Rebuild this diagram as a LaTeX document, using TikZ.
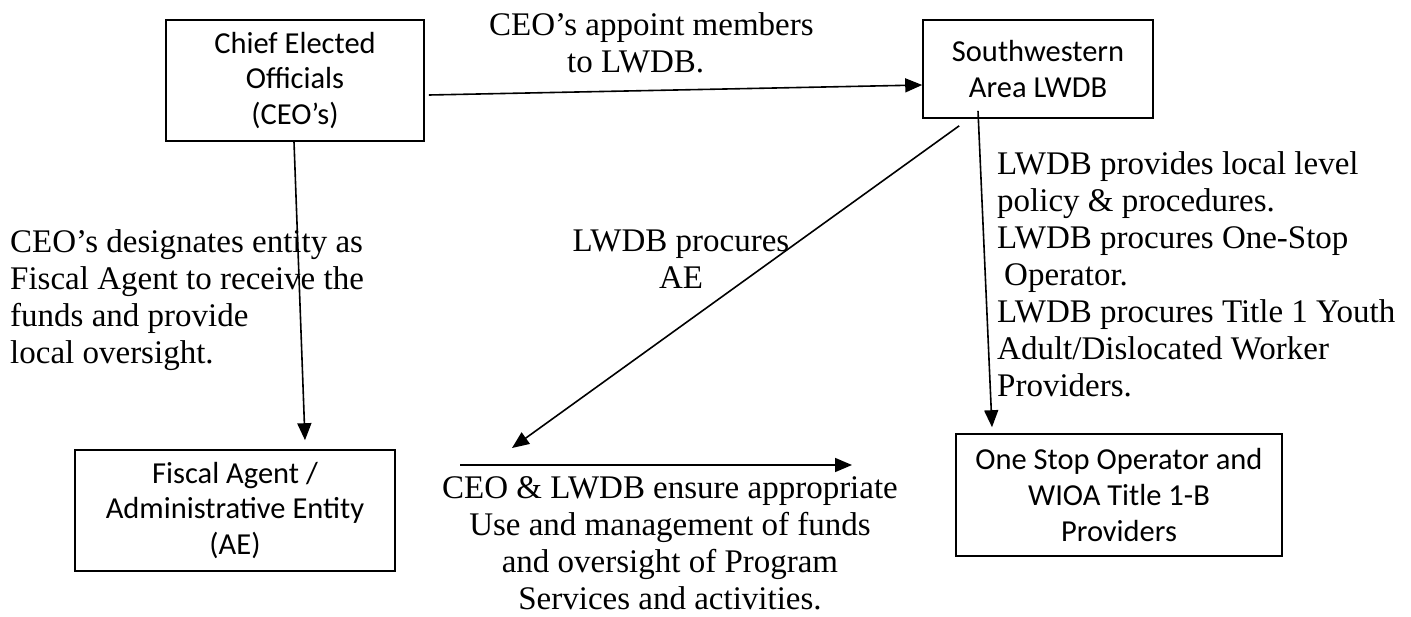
\documentclass[tikz,border=0pt]{standalone}
\usepackage{fontspec}
\setmainfont{Liberation Serif}
\newfontfamily\boxfont{Carlito}
\usetikzlibrary{arrows.meta}
\begin{document}
\begin{tikzpicture}[x=1pt,y=-1pt,
  box/.style={draw, line width=1.6pt, inner sep=0pt, align=center,
    font=\boxfont\fontsize{30.5}{35.8}\selectfont},
  lbl/.style={inner sep=0pt, font=\fontsize{33}{37}\selectfont},
  arr/.style={line width=1.6pt, -{Triangle[length=17pt,width=14pt]}}]
\useasboundingbox (0,0) rectangle (1411,616);
\fill[white] (0,0) rectangle (1411,616);
% boxes
\node[box, minimum width=258pt, minimum height=121pt] (ceo) at (295,80.5)
  {Chief Elected\\Officials\\(CEO’s)};
\node[box, minimum width=230pt, minimum height=98pt] (sw) at (1038,69)
  {Southwestern\\Area LWDB};
\node[box, minimum width=320pt, minimum height=121pt] (fa) at (235,510.5)
  {Fiscal Agent /\\Administrative Entity\\(AE)};
\node[box, minimum width=326pt, minimum height=122pt] (os) at (1119,495)
  {One Stop Operator and\\WIOA Title 1-B\\Providers};
% free ends
\coordinate (aetip) at (512,448);
\coordinate (h1) at (460,465);
\coordinate (h2) at (852,465);
% connectors
\draw[arr] ([xshift=4pt,yshift=-14.5pt]ceo.east) -- ([yshift=-16pt]sw.west);
\draw[arr] ([xshift=-1pt]ceo.south) -- ([xshift=70pt,yshift=9pt]fa.north);
\draw[arr] ([xshift=-60pt,yshift=8pt]sw.south) -- ([xshift=-127pt,yshift=6pt]os.north);
\draw[arr] ([xshift=37pt,yshift=-7pt]sw.south west) -- (aetip);
\draw[arr] (h1) -- (h2);
% labels (base anchor = baseline of last line)
\node[lbl, anchor=base west, align=left] (l1) at (489,72)
  {CEO’s appoint members\\\hspace*{78pt}to LWDB.};
\node[lbl, anchor=base west, align=left] (l2) at (10,363)
  {CEO’s designates entity as\\Fiscal Agent to receive the\\funds and provide\\local oversight.};
\node[lbl, anchor=base, align=center] (l3) at (681,288)
  {LWDB procures\\AE};
\node[lbl, anchor=base west, align=left] (l4) at (997,396)
  {LWDB provides local level\\policy \& procedures.\\LWDB procures One-Stop\\\hspace*{7pt}Operator.\\LWDB procures Title 1 Youth\\Adult/Dislocated Worker\\Providers.};
\node[lbl, anchor=base, align=center] (l5) at (670,609)
  {CEO \& LWDB ensure appropriate\\Use and management of funds\\and oversight of Program\\Services and activities.};
\end{tikzpicture}
\end{document}
